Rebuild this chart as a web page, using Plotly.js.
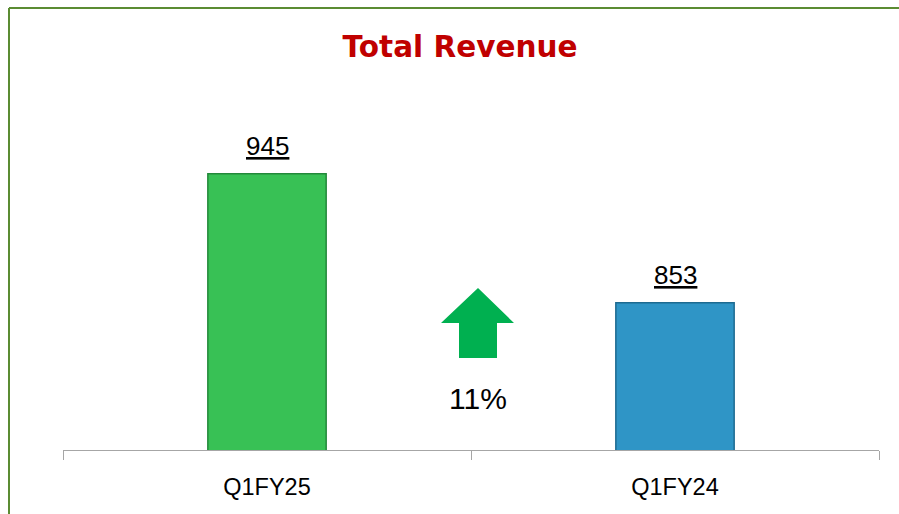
<!DOCTYPE html>
<html>
<head>
<meta charset="utf-8">
<script src="https://cdn.plot.ly/plotly-3.0.1.min.js"></script>
<style>html,body{margin:0;padding:0;background:#fff;}#chart{width:899px;height:514px;}</style>
</head>
<body>
<div id="chart"></div>
<script>
const categories = ["Q1FY25", "Q1FY24"];
const revenue = [945, 853];
const barColors = ["#38c155", "#2f95c6"];
const barLines = ["#23893a", "#1d6a90"];
const growthLabel = "11%";

const pxX = px => (px - 63) / 816;
const pxY = py => (450 - py) / 350;

const trace = {
  type: "bar",
  x: categories,
  y: revenue,
  width: 0.29,
  marker: { color: barColors, line: { color: barLines, width: 1.5 } },
  hoverinfo: "skip"
};

const labelAnns = categories.map((c, i) => ({
  x: c, y: revenue[i], xref: "x", yref: "y",
  text: "<u>" + revenue[i] + "</u>",
  showarrow: false, yanchor: "bottom", yshift: 11,
  font: { family: "Liberation Sans, Arial, sans-serif", size: 26, color: "#000" }
}));

const arrowPath = "M " + pxX(441) + "," + pxY(323) + " L " + pxX(478) + "," + pxY(288) +
  " L " + pxX(514) + "," + pxY(323) + " L " + pxX(497) + "," + pxY(323) +
  " L " + pxX(497) + "," + pxY(358) + " L " + pxX(459) + "," + pxY(358) +
  " L " + pxX(459) + "," + pxY(323) + " Z";

const layout = {
  width: 899, height: 514,
  margin: { l: 63, r: 20, t: 100, b: 64 },
  paper_bgcolor: "#fff", plot_bgcolor: "#fff",
  showlegend: false,
  title: {
    text: "<b>Total Revenue</b>",
    x: 460 / 899, xanchor: "center", xref: "container",
    y: 1 - 47 / 514, yanchor: "middle", yref: "container",
    font: { family: "DejaVu Sans, Verdana, sans-serif", size: 29.5, color: "#c00000" }
  },
  xaxis: {
    type: "category",
    range: [-0.5, 1.5],
    showline: true, linecolor: "#a6a6a6", linewidth: 1,
    ticks: "outside", tickson: "boundaries", ticklen: 9, tickcolor: "#a6a6a6",
    ticklabelstandoff: 16,
    showgrid: false, zeroline: false,
    tickfont: { family: "Liberation Sans, Arial, sans-serif", size: 23.5, color: "#000" },
    fixedrange: true
  },
  yaxis: { visible: false, range: [748, 997.6], fixedrange: true },
  annotations: labelAnns.concat([{
    x: pxX(478), y: pxY(398), xref: "paper", yref: "paper",
    text: growthLabel, showarrow: false, xanchor: "center", yanchor: "middle",
    font: { family: "Liberation Sans, Arial, sans-serif", size: 30, color: "#000" }
  }]),
  shapes: [
    { type: "path", xref: "paper", yref: "paper", path: arrowPath,
      fillcolor: "#00b050", line: { width: 0 } },
    { type: "line", xref: "paper", yref: "paper", x0: pxX(9), x1: pxX(900), y0: pxY(8), y1: pxY(8),
      line: { color: "#5b8c32", width: 2 } },
    { type: "line", xref: "paper", yref: "paper", x0: pxX(9), x1: pxX(9), y0: pxY(8), y1: pxY(515),
      line: { color: "#5b8c32", width: 2 } }
  ]
};

Plotly.newPlot("chart", [trace], layout, { displayModeBar: false, staticPlot: true });
</script>
</body>
</html>
